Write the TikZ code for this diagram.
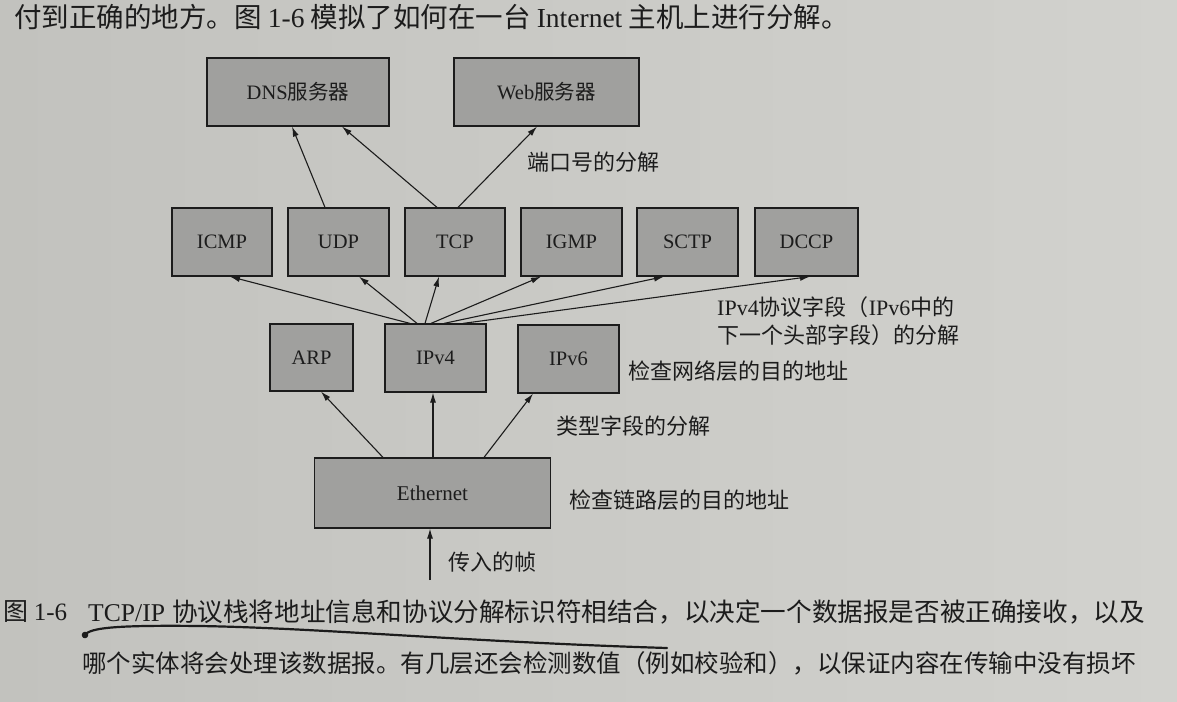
\documentclass[tikz,border=0pt]{standalone}
\usepackage{fontspec}
\setmainfont{Liberation Serif}
\newfontfamily\cjk{Noto Sans CJK SC}
\usetikzlibrary{arrows.meta}
\definecolor{pageL}{RGB}{194,194,190}
\definecolor{pageR}{RGB}{210,210,206}
\definecolor{boxfill}{RGB}{160,160,158}
\definecolor{ink}{RGB}{28,28,28}
\tikzset{
  box/.style={draw=ink, line width=1.2pt, fill=boxfill, minimum height=68pt, inner sep=0pt,
    font=\fontsize{20.5}{24}\selectfont, text=ink},
  arr/.style={draw=ink, line width=1.1pt, -{Latex[length=10pt,width=6pt]}},
  lbl/.style={anchor=west, inner sep=0pt, font=\fontsize{22}{28}\selectfont\cjk, text=ink},
  para/.style={anchor=west, inner sep=0pt, text=ink},
}
\begin{document}
\begin{tikzpicture}[x=1pt,y=-1pt]
\fill[left color=pageL, right color=pageR] (0,0) rectangle (1177,701);
\useasboundingbox (0,0) rectangle (1177,701);

% top text line
\node[para, font=\fontsize{27.5}{30}\selectfont\cjk] (topline) at (14,17)
  {付到正确的地方。图 {\rmfamily 1-6} 模拟了如何在一台 {\rmfamily Internet} 主机上进行分解。};

% boxes
\node[box, minimum width=182pt] (dns) at (298,92) {DNS{\cjk 服务器}};
\node[box, minimum width=185pt] (web) at (546.5,92) {Web{\cjk 服务器}};

\node[box, minimum width=100pt] (icmp) at (222,242) {ICMP};
\node[box, minimum width=101pt] (udp)  at (338.5,242) {UDP};
\node[box, minimum width=100pt] (tcp)  at (455,242) {TCP};
\node[box, minimum width=101pt] (igmp) at (571.5,242) {IGMP};
\node[box, minimum width=101pt] (sctp) at (687.5,242) {SCTP};
\node[box, minimum width=103pt] (dccp) at (806.5,242) {DCCP};

\node[box, minimum width=83pt, minimum height=67pt] (arp) at (311.5,357.5) {ARP};
\node[box, minimum width=101pt] (ipv4) at (435.5,358) {IPv4};
\node[box, minimum width=101pt] (ipv6) at (568.5,359) {IPv6};

\node[box, minimum width=236pt, minimum height=70pt, font=\fontsize{21}{24}\selectfont] (eth) at (432.5,493) {Ethernet};

% arrows Ethernet -> network layer
\draw[arr] ([xshift=-49.5pt]eth.north) -- ([xshift=9.5pt]arp.south);
\draw[arr] ([xshift=0.5pt]eth.north) -- ([xshift=-2.5pt]ipv4.south);
\draw[arr] ([xshift=51.5pt]eth.north) -- ([xshift=-35.5pt]ipv6.south);

% arrows IPv4 -> transport
\draw[arr] ([xshift=-25.5pt]ipv4.north) -- ([xshift=8pt]icmp.south);
\draw[arr] ([xshift=-18.5pt]ipv4.north) -- ([xshift=20.5pt]udp.south);
\draw[arr] ([xshift=-10.5pt]ipv4.north) -- ([xshift=-16pt]tcp.south);
\draw[arr] ([xshift=-4.5pt]ipv4.north) -- ([xshift=-30.5pt]igmp.south);
\draw[arr] ([xshift=8.5pt]ipv4.north) -- ([xshift=-23.5pt]sctp.south);
\draw[arr] ([xshift=27.5pt]ipv4.north) -- ([xshift=3.5pt]dccp.south);

% arrows transport -> servers
\draw[arr] ([xshift=-13.5pt]udp.north) -- ([xshift=-6pt]dns.south);
\draw[arr] ([xshift=-18pt]tcp.north) -- ([xshift=44pt]dns.south);
\draw[arr] ([xshift=3pt]tcp.north) -- ([xshift=-9.5pt]web.south);

% incoming frame
\coordinate (inframe) at (430,580);
\draw[arr] (inframe) -- (eth.south -| inframe);

% labels
\node[lbl] (lport) at (527,162) {端口号的分解};
\node[lbl, align=left] (lproto) at (717,321)
  {{\rmfamily IPv4}协议字段（{\rmfamily IPv6}中的\\下一个头部字段）的分解};
\node[lbl] (lnet) at (628,371) {检查网络层的目的地址};
\node[lbl] (ltype) at (556,426) {类型字段的分解};
\node[lbl] (llink) at (569,500) {检查链路层的目的地址};
\node[lbl] (lin) at (448,562) {传入的帧};

% caption
\node[para, font=\fontsize{25}{30}\selectfont\cjk] (figno) at (3,612) {图 {\rmfamily 1-6}};
\node[para, font=\fontsize{25.6}{30}\selectfont\cjk] (cap1) at (88,612)
  {{\rmfamily TCP/IP}\hspace{7pt}协议栈将地址信息和协议分解标识符相结合，以决定一个数据报是否被正确接收，以及};
\node[para, font=\fontsize{24.5}{30}\selectfont\cjk] (cap2) at (82,663)
  {哪个实体将会处理该数据报。有几层还会检测数值（例如校验和），以保证内容在传输中没有损坏};

% hand-drawn pen mark
\draw[ink, line width=2.2pt, line cap=round]
  (84,637) .. controls (86,628) and (110,625) .. (200,626)
  .. controls (320,628) and (470,642) .. (667,648);
\fill[ink] (85,635) circle (3.3pt);
\end{tikzpicture}
\end{document}
